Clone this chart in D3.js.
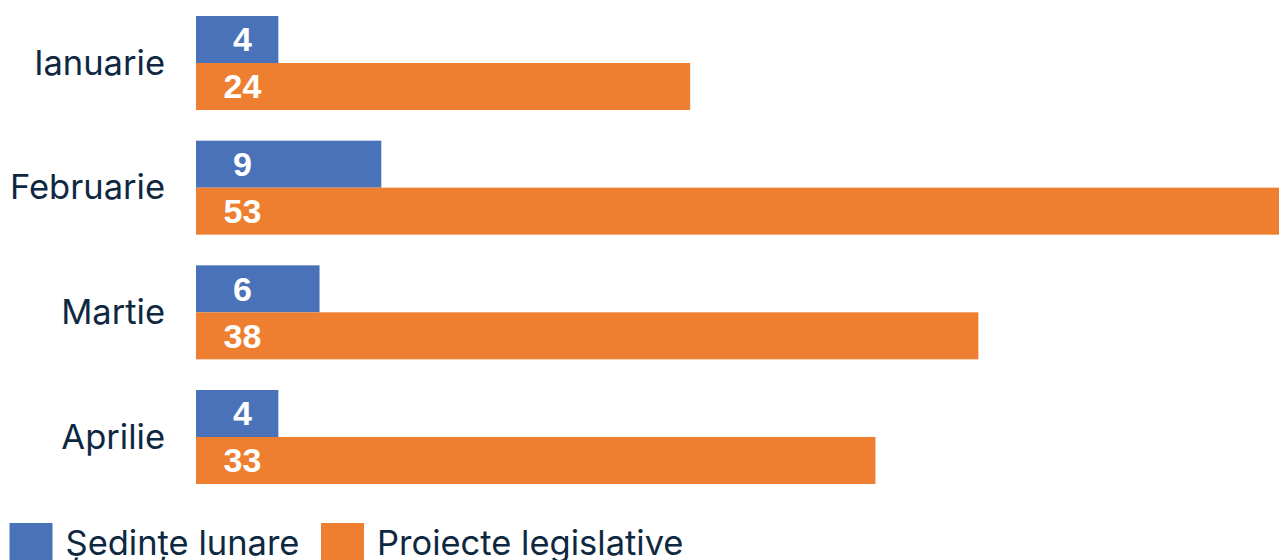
<!DOCTYPE html>
<html>
<head>
<meta charset="utf-8">
<script src="https://cdn.jsdelivr.net/npm/d3@7"></script>
<style>
  html, body { margin: 0; padding: 0; background: #ffffff; overflow: hidden; }
  svg { display: block; }
</style>
</head>
<body>
<svg id="chart" width="1279" height="560"></svg>
<script>
const months = ["Ianuarie", "Februarie", "Martie", "Aprilie"];
const seriesNames = ["Ședințe lunare", "Proiecte legislative"];
const sedinteLunare = [4, 9, 6, 4];
const proiecteLegislative = [24, 53, 38, 33];
const seriesColors = ["#4a72b8", "#ee7f31"];

const W = 1279, H = 560;
const svg = d3.select("#chart");

const seriesValues = [sedinteLunare, proiecteLegislative];

const y = d3.scaleBand().domain(months).range([0.67, 499.33]).paddingInner(0.246).paddingOuter(0.123);
const ySub = d3.scaleBand().domain(seriesNames).range([0, y.bandwidth()]);
const x = d3.scaleLinear().domain([0, 52.6]).range([196, 1279]);
const color = d3.scaleOrdinal().domain(seriesNames).range(seriesColors);

const rows = [];
months.forEach((m, i) => {
  seriesNames.forEach((s, j) => {
    rows.push({ month: m, series: s, value: seriesValues[j][i] });
  });
});

const g = svg.append("g");

g.selectAll("rect.bar")
  .data(rows)
  .join("rect")
  .attr("class", "bar")
  .attr("x", x(0))
  .attr("y", d => y(d.month) + ySub(d.series))
  .attr("width", d => Math.max(0, x(d.value) - x(0)))
  .attr("height", ySub.bandwidth())
  .attr("fill", d => color(d.series));

g.selectAll("text.val")
  .data(rows)
  .join("text")
  .attr("class", "val")
  .attr("x", x(0) + 46.5)
  .attr("y", d => y(d.month) + ySub(d.series) + ySub.bandwidth() / 2)
  .attr("dy", "0.35em")
  .attr("text-anchor", "middle")
  .attr("font-family", "'Liberation Sans', Arial, sans-serif")
  .attr("font-weight", "bold")
  .attr("font-size", 34)
  .attr("fill", "#ffffff")
  .text(d => d.value);

// category axis labels
const yAxis = d3.axisLeft(y).tickSize(0).tickPadding(0);
const axG = svg.append("g").attr("transform", `translate(165,0)`).call(yAxis);
axG.select(".domain").remove();
axG.selectAll("text")
  .attr("font-family", "Inter, Roboto, sans-serif")
  .attr("font-size", 34.5)
  .attr("fill", "#0e2841")
  .attr("dy", "0.34em");

// legend
const legend = svg.append("g");
const legX = [9.5, 321];
seriesNames.forEach((s, i) => {
  const lg = legend.append("g").attr("transform", `translate(${legX[i]},523)`);
  lg.append("rect").attr("width", 43).attr("height", 43).attr("fill", color(s));
  lg.append("text")
    .attr("x", 56)
    .attr("y", 32)
    .attr("font-family", "Inter, Roboto, sans-serif")
    .attr("font-size", 34.5)
    .attr("fill", "#0e2841")
    .text(s);
});
</script>
</body>
</html>
